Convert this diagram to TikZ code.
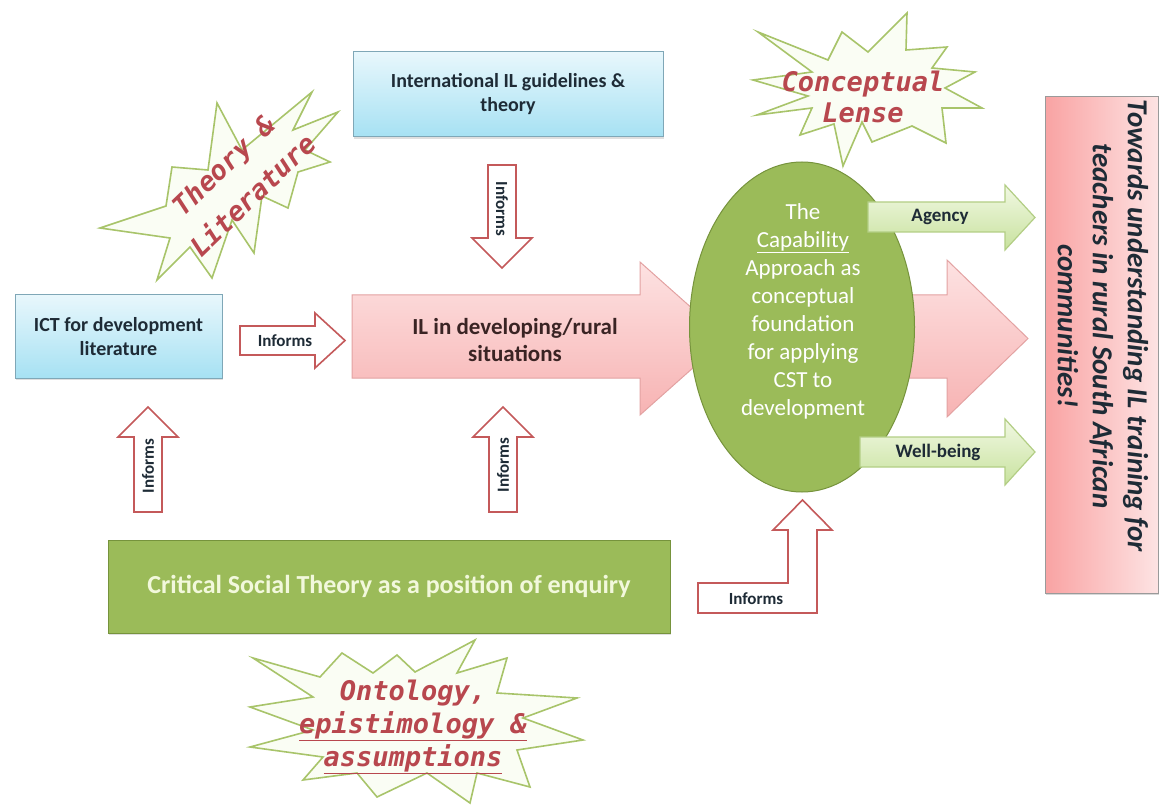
\documentclass[tikz,border=0pt]{standalone}
\usepackage{fontspec}
\setmainfont{Carlito}
\newfontfamily\starfont{DejaVu Sans Mono}
\usetikzlibrary{shapes.geometric,shadows}
\definecolor{cOlive}{HTML}{9BBB59}
\definecolor{cOliveDark}{HTML}{76933C}
\definecolor{cBlueTop}{HTML}{E8F7FC}
\definecolor{cBlueBot}{HTML}{A6E1F3}
\definecolor{cBlueLine}{HTML}{7FA7B7}
\definecolor{cDark}{HTML}{1E2B36}
\definecolor{cPinkTop}{HTML}{FDE2E2}
\definecolor{cPinkBot}{HTML}{F7B3B3}
\definecolor{cPinkLine}{HTML}{E3A2A2}
\definecolor{cPinkText}{HTML}{3A2424}
\definecolor{cRedLine}{HTML}{C4595A}
\definecolor{cGreenTop}{HTML}{F1F8E3}
\definecolor{cGreenBot}{HTML}{C8E29E}
\definecolor{cGreenLine}{HTML}{B3CE85}
\definecolor{cRBLeft}{HTML}{F9A3A3}
\definecolor{cRBRight}{HTML}{FDE3E3}
\definecolor{cGrayLine}{HTML}{9A9A9A}
\definecolor{cCSTText}{HTML}{F2F8DC}
\definecolor{cStarFill}{HTML}{FAFDF4}
\definecolor{cStarLine}{HTML}{A8C46A}
\definecolor{cStarText}{HTML}{B8474E}
\begin{document}
\begin{tikzpicture}[x=1pt,y=-1pt,
  bluebox/.style={rectangle, draw=cBlueLine, line width=1pt, top color=cBlueTop, bottom color=cBlueBot,
    font=\fontsize{20}{24}\selectfont\bfseries, text=cDark, align=center,
    drop shadow={opacity=0.25, shadow xshift=1pt, shadow yshift=-2pt}},
  pinkarrow/.style={draw=cPinkLine, line width=1pt, top color=cPinkTop, bottom color=cPinkBot},
  greenarrow/.style={draw=cGreenLine, line width=1.2pt, top color=cGreenTop, bottom color=cGreenBot},
  informs/.style={fill=white, draw=cRedLine, line width=1.6pt},
  informstext/.style={font=\fontsize{17}{20}\selectfont\bfseries, text=cDark, inner sep=0pt},
  greentext/.style={font=\fontsize{19}{22}\selectfont\bfseries, text=cDark, inner sep=0pt},
  starshape/.style={fill=cStarFill, draw=cStarLine, line width=1.6pt},
  startext/.style={font=\starfont\bfseries\itshape\fontsize{27}{33}\selectfont, text=cStarText, align=center, inner sep=0pt},
]
\useasboundingbox[fill=white] (0,0) rectangle (1160,805);

% ---------- stars ----------
\path[starshape] (217,103) -- (242,150) -- (312,92) -- (293,130) -- (338,112) -- (305,150) -- (330,162)
  -- (298,172) -- (288,208) -- (262,196) -- (254,253) -- (232,220) -- (212,278) -- (190,247)
  -- (157,280) -- (170,238) -- (100,228) -- (166,206) -- (172,167) -- (208,170) -- cycle;
\node[startext, rotate=44] (theory) at (238,180) {Theory \&\\[9pt] Literature};

\path[starshape] (758,32) -- (828,60) -- (842,32) -- (868,52) -- (907,13) -- (906,50) -- (947,47)
  -- (932,68) -- (975,72) -- (945,88) -- (982,108) -- (942,108) -- (946,143) -- (912,126)
  -- (872,142) -- (862,122) -- (843,166) -- (834,124) -- (800,135) -- (812,108) -- (757,115)
  -- (808,96) -- (753,80) -- (812,72) -- cycle;
\node[startext] (lense) at (863,97) {Conceptual\\[-2pt]Lense};

\path[starshape] (253,658) -- (320,677) -- (342,653) -- (373,673) -- (397,655) -- (415,672) -- (475,640)
  -- (457,673) -- (507,658) -- (497,693) -- (577,698) -- (523,718) -- (583,740) -- (517,750)
  -- (530,787) -- (477,773) -- (470,803) -- (427,773) -- (377,797) -- (357,773) -- (303,780)
  -- (323,757) -- (250,747) -- (313,730) -- (250,707) -- (313,697) -- cycle;
\node[startext] (onto) at (413,727) {Ontology,\\\underline{epistimology \&}\\\underline{assumptions}};

% ---------- boxes ----------
\node[bluebox, minimum width=310, minimum height=85] (intl) at (508,94.5) {International IL guidelines \&\\ theory};
\node[bluebox, minimum width=207, minimum height=83] (ict) at (118.5,336.5) {ICT for development\\ literature};

% ---------- big pink arrows ----------
\path[pinkarrow] (352,295) -- (640,295) -- (640,262) -- (726,338.5) -- (640,415) -- (640,378) -- (352,378) -- cycle;
\node[font=\fontsize{23}{27}\selectfont\bfseries, text=cPinkText, align=center] (ilrural) at (515,340) {IL in developing/rural\\ situations};
\path[pinkarrow] (850,295) -- (947,295) -- (947,260) -- (1028,338.5) -- (947,417) -- (947,378) -- (850,378) -- cycle;

% ---------- ellipse ----------
\node[ellipse, fill=cOlive, draw=cOliveDark, line width=1pt, minimum width=225, minimum height=330, inner sep=0pt] (cap) at (802,327) {};
\node[font=\fontsize{23}{28}\selectfont, text=white, align=center] (captext) at (803,311)
  {The\\ \underline{Capability}\\ Approach as\\ conceptual\\ foundation\\ for applying\\ CST to\\ development};

% ---------- green arrows ----------
\path[greenarrow] (868,202) -- (1005,202) -- (1005,185) -- (1035,217.5) -- (1005,250) -- (1005,232) -- (868,232) -- cycle;
\node[greentext] (agency) at (940,217) {Agency};
\path[greenarrow] (860,437) -- (1005,437) -- (1005,419) -- (1035,452) -- (1005,485) -- (1005,467) -- (860,467) -- cycle;
\node[greentext] (wellbeing) at (938,452) {Well-being};

% ---------- right box ----------
\node[rectangle, minimum width=113, minimum height=496, left color=cRBLeft, right color=cRBRight, draw=cGrayLine, line width=1pt,
  drop shadow={opacity=0.3, shadow xshift=1pt, shadow yshift=-2pt}] (goal) at (1101.5,345) {};
\node[rotate=-90, font=\fontsize{29}{35}\selectfont\bfseries\itshape, align=center, text=cDark] (goaltext) at (1103,326)
  {Towards understanding IL training for\\ teachers in rural South African\\ communities!};

% ---------- CST box ----------
\node[rectangle, fill=cOlive, draw=cOliveDark, line width=1pt, minimum width=562, minimum height=93,
  font=\fontsize{26}{30}\selectfont\bfseries, text=cCSTText,
  drop shadow={opacity=0.25, shadow xshift=1pt, shadow yshift=-2pt}] (cst) at (389,586.5) {Critical Social Theory as a position of enquiry};

% ---------- informs arrows ----------
\path[informs] (240,326) -- (315,326) -- (315,313) -- (345,340.5) -- (315,368) -- (315,355) -- (240,355) -- cycle;
\node[informstext] (inf1) at (285,341) {Informs};

\path[informs] (488,165) -- (516,165) -- (516,238) -- (532,238) -- (502,268) -- (472,238) -- (488,238) -- cycle;
\node[informstext, rotate=-90] (inf2) at (502,209) {Informs};

\path[informs] (134,512) -- (162,512) -- (162,437) -- (178,437) -- (148,407) -- (118,437) -- (134,437) -- cycle;
\node[informstext, rotate=90] (inf3) at (148,466) {Informs};

\path[informs] (489,512) -- (517,512) -- (517,437) -- (533,437) -- (503,407) -- (473,437) -- (489,437) -- cycle;
\node[informstext, rotate=90] (inf4) at (503,465) {Informs};

\path[informs] (698,583) -- (788,583) -- (788,530) -- (773,530) -- (802.5,500) -- (832,530) -- (817,530)
  -- (817,613) -- (698,613) -- cycle;
\node[informstext] (inf5) at (756,599) {Informs};
\end{tikzpicture}
\end{document}
